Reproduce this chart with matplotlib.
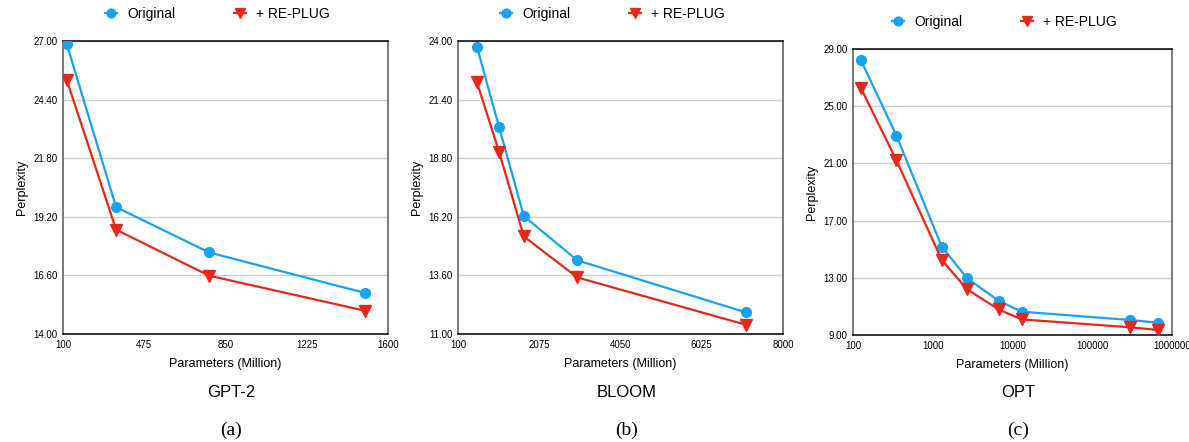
import numpy as np
import matplotlib
matplotlib.use("Agg")
from matplotlib import pyplot as plt

plt.rcParams['font.family'] = ['Liberation Sans', 'DejaVu Sans']

# GPT-2
gpt2_x = [117, 345, 774, 1495]
gpt2_orig = [26.87, 19.63, 17.62, 15.82]
gpt2_plug = [25.28, 18.63, 16.59, 15.03]

# BLOOM
bloom_x = [560, 1100, 1700, 3000, 7100]
bloom_orig = [23.75, 20.18, 16.23, 14.27, 11.96]
bloom_plug = [22.17, 19.07, 15.33, 13.51, 11.41]

# OPT
opt_x = [125, 350, 1300, 2700, 6700, 13000, 300000, 660000]
opt_orig = [28.25, 22.95, 15.17, 12.96, 11.40, 10.63, 10.05, 9.86]
opt_plug = [26.30, 21.22, 14.24, 12.19, 10.79, 10.09, 9.54, 9.35]

names = ['GPT-2', 'BLOOM', 'OPT']
letters = ['(a)', '(b)', '(c)']

blue = '#17a2f3'
red = '#e6281b'

fig = plt.figure(figsize=(11.89, 4.42), dpi=100)

panels = [
    dict(rect=[0.053, 0.2443, 0.2733, 0.6629], x=gpt2_x, o=gpt2_orig, p=gpt2_plug,
         xlim=(100, 1600), xt=[100, 475, 850, 1225, 1600], ylim=(14, 27),
         yt=[14.0, 16.6, 19.2, 21.8, 24.4, 27.0], log=False, leg_y=0.968),
    dict(rect=[0.3852, 0.2443, 0.2733, 0.6629], x=bloom_x, o=bloom_orig, p=bloom_plug,
         xlim=(100, 8000), xt=[100, 2075, 4050, 6025, 8000], ylim=(11, 24),
         yt=[11.0, 13.6, 16.2, 18.8, 21.4, 24.0], log=False, leg_y=0.968),
    dict(rect=[0.7174, 0.2421, 0.2683, 0.6470], x=opt_x, o=opt_orig, p=opt_plug,
         xlim=(100, 1000000), xt=[100, 1000, 10000, 100000, 1000000], ylim=(9, 29),
         yt=[9.0, 13.0, 17.0, 21.0, 25.0, 29.0], log=True, leg_y=0.950),
]

for i, pn in enumerate(panels):
    ax = fig.add_axes(pn['rect'])
    if pn['log']:
        ax.set_xscale('log')
    l1, = ax.plot(pn['x'], pn['o'], color=blue, marker='o', markersize=7, lw=1.6,
                  label='Original', zorder=3)
    l2, = ax.plot(pn['x'], pn['p'], color=red, marker='v', markersize=8, lw=1.6,
                  label='+ RE-PLUG', zorder=3)
    ax.set_xlim(*pn['xlim'])
    ax.set_ylim(*pn['ylim'])
    ax.set_xticks(pn['xt'])
    ax.set_xticklabels([str(t) for t in pn['xt']])
    ax.minorticks_off()
    ax.set_yticks(pn['yt'])
    ax.set_yticklabels(['%.2f' % t for t in pn['yt']])
    ax.tick_params(length=0, labelsize=7, pad=4)
    ax.grid(axis='y', color='#cfcfcf', lw=1)
    ax.set_axisbelow(True)
    for s in ['top', 'bottom']:
        ax.spines[s].set_color('black')
        ax.spines[s].set_linewidth(1.1)
    for s in ['left', 'right']:
        ax.spines[s].set_color('#555555')
        ax.spines[s].set_linewidth(1.1)
    ax.set_ylabel('Perplexity', fontsize=9, labelpad=4)
    ax.set_xlabel('Parameters (Million)', fontsize=9, labelpad=6)

    cx = pn['rect'][0] + pn['rect'][2] / 2
    fig.legend(handles=[l1, l2], loc='center', bbox_to_anchor=(cx - 0.007, pn['leg_y']),
               ncol=2, frameon=False, fontsize=10, columnspacing=4.2,
               handlelength=0.9, handletextpad=0.7, markerscale=0.9)
    fig.text(cx + 0.005, 0.113, names[i], ha='center', va='center', fontsize=12)
    fig.text(cx + 0.005, 0.027, letters[i], ha='center', va='center', fontsize=14,
             family=['Liberation Serif', 'DejaVu Serif'])

fig.savefig('out.png', dpi=100)
